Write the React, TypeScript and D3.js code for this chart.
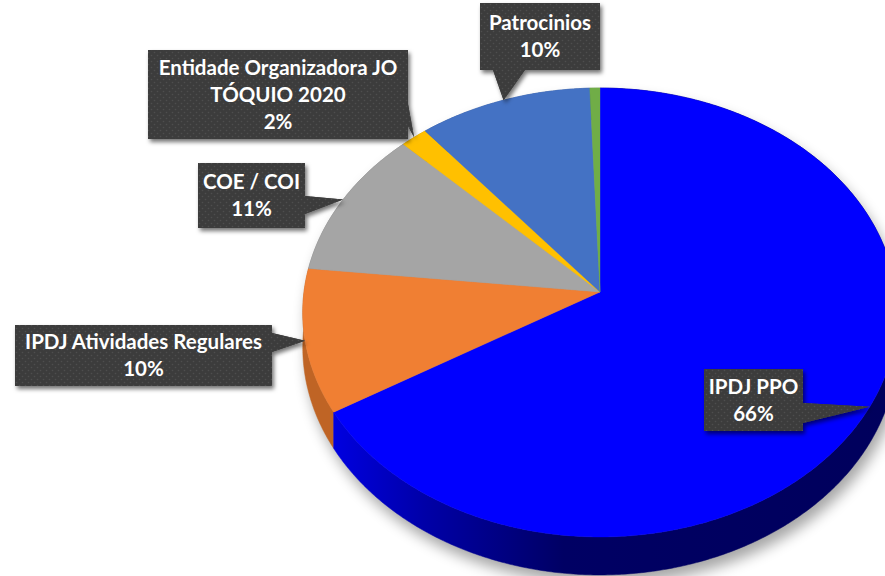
import React from 'react';
import * as d3 from 'd3';

// ---- data ----
const categories = ['IPDJ PPO', 'IPDJ Atividades Regulares', 'COE / COI', 'Entidade Organizadora JO TÓQUIO 2020', 'Patrocinios', 'Outros'];
const values = [66.4, 10.3, 10.8, 1.6, 10.3, 0.6];
const labelLines = [['IPDJ PPO'], ['IPDJ Atividades Regulares'], ['COE / COI'], ['Entidade Organizadora JO', 'TÓQUIO 2020'], ['Patrocinios'], []];
const topColors = ['#0000FF', '#F07F33', '#A5A5A5', '#FFC000', '#4472C4', '#70AD47'];
const sideColors = ['url(#blueSide)', '#BF6425', '#7F7F7F', '#C79600', '#2F5597', '#507E32'];

// ---- layout (label boxes: x, y, w, h, tail base points) ----
const boxLayout = [
  { x: 704, y: 369, w: 99, h: 62, base: [[803, 403], [803, 423]] },
  { x: 15, y: 325, w: 257, h: 61, base: [[272, 333], [272, 352]] },
  { x: 198, y: 163, w: 107, h: 65, base: [[305, 196], [305, 214]] },
  { x: 148, y: 50, w: 260, h: 89, base: [[408, 104], [408, 126]] },
  { x: 480, y: 3, w: 120, h: 67, base: [[493, 70], [525, 70]] },
  null,
];

const W = 885, H = 576;
const CX = 600, CY = 292, RX = 296, RY = 222.6, U = 0.0913, DEPTH = 34.5;

function proj(theta: number, r: number, z: number): [number, number] {
  const s = Math.sin(theta) * r, c = Math.cos(theta) * r;
  const w = 1 + U * c;
  return [CX + (RX * s) / w, CY + (-RY * c + DEPTH * z) / w];
}

function arcPoints(a0: number, a1: number, z: number) {
  const n = Math.max(2, Math.ceil(((a1 - a0) * 180) / Math.PI / 0.5));
  const pts: [number, number][] = [];
  for (let i = 0; i <= n; i++) pts.push(proj(a0 + ((a1 - a0) * i) / n, 1, z));
  return pts;
}

const line = d3.line();

export default function App() {
  const total = d3.sum(values);
  const pie = d3.pie<number>().sort(null).value((d) => d).startAngle(0).endAngle(2 * Math.PI);
  const arcs = pie(values);

  const tops = arcs.map((a) => {
    const pts = [proj(0, 0, 0), ...arcPoints(a.startAngle, a.endAngle, 0)];
    return line(pts) + 'Z';
  });
  const sides = arcs.map((a) => {
    const topPts = arcPoints(a.startAngle, a.endAngle, 0);
    const botPts = arcPoints(a.startAngle, a.endAngle, 1).reverse();
    return line([...topPts, ...botPts]) + 'Z';
  });
  const sideOrder = arcs
    .map((a, i) => ({ i, depth: Math.cos((a.startAngle + a.endAngle) / 2) }))
    .sort((p, q) => q.depth - p.depth)
    .map((p) => p.i);

  const font = 'Lato, "Open Sans", sans-serif';
  const lineH = 27;

  return (
    <svg width={W} height={H} style={{ position: 'absolute', left: 0, top: 0, display: 'block' }} viewBox={`0 0 ${W} ${H}`}>
      <defs>
        <linearGradient id="blueSide" gradientUnits="userSpaceOnUse" x1={320} y1={0} x2={900} y2={0}>
          <stop offset="0" stopColor="#0000E8" />
          <stop offset="0.18" stopColor="#0000A8" />
          <stop offset="0.42" stopColor="#000064" />
          <stop offset="1" stopColor="#00005C" />
        </linearGradient>
        <filter id="pieShadow" x="-20%" y="-20%" width="140%" height="140%">
          <feGaussianBlur stdDeviation="7" />
        </filter>
        <filter id="boxShadow" x="-20%" y="-30%" width="140%" height="160%">
          <feDropShadow dx="2" dy="3" stdDeviation="2" floodColor="#000" floodOpacity="0.55" />
        </filter>
        <pattern id="dots" width="6" height="6" patternUnits="userSpaceOnUse">
          <rect width="6" height="6" fill="#3C3C3C" />
          <circle cx="1.5" cy="1.5" r="0.8" fill="#4E4E4E" />
          <circle cx="4.5" cy="4.5" r="0.8" fill="#4E4E4E" />
        </pattern>
      </defs>
      <rect width={W} height={H} fill="#FFFFFF" />

      <g transform="translate(4,9)" filter="url(#pieShadow)" opacity={0.35}>
        {sides.map((d, i) => (
          <path key={'ss' + i} d={d} fill="#000" />
        ))}
        {tops.map((d, i) => (
          <path key={'st' + i} d={d} fill="#000" />
        ))}
      </g>

      {sideOrder.map((i) => (
        <path key={'side' + i} d={sides[i]} fill={sideColors[i]} stroke={sideColors[i]} strokeWidth={0.5} />
      ))}
      {tops.map((d, i) => (
        <path key={'top' + i} d={d} fill={topColors[i]} stroke={topColors[i]} strokeWidth={0.4} />
      ))}

      {arcs.map((a, i) => {
        const b = boxLayout[i];
        if (!b || labelLines[i].length === 0) return null;
        const mid = (a.startAngle + a.endAngle) / 2;
        const tip = proj(mid, 1, 0);
        const pct = Math.round((values[i] / total) * 100) + '%';
        const lines = [...labelLines[i], pct];
        const cxb = b.x + b.w / 2;
        const cyb = b.y + b.h / 2;
        const first = cyb - ((lines.length - 1) * lineH) / 2 + 7;
        const [p1, p2] = b.base;
        const tail = `M${p1[0]},${p1[1]}L${tip[0]},${tip[1]}L${p2[0]},${p2[1]}Z`;
        const rectP = `M${b.x},${b.y}H${b.x + b.w}V${b.y + b.h}H${b.x}Z`;
        return (
          <g key={'lab' + i}>
            <g filter="url(#boxShadow)">
              <path d={rectP} fill="url(#dots)" />
              <path d={tail} fill="url(#dots)" />
            </g>
            <path d={rectP} fill="url(#dots)" />
            <path d={tail} fill="url(#dots)" />
            {lines.map((t, k) => (
              <text
                key={k}
                x={cxb}
                y={first + k * lineH}
                textAnchor="middle"
                fill="#FFFFFF"
                fontFamily={font}
                fontWeight={700}
                fontSize={20.5}
              >
                {t}
              </text>
            ))}
          </g>
        );
      })}
    </svg>
  );
}
